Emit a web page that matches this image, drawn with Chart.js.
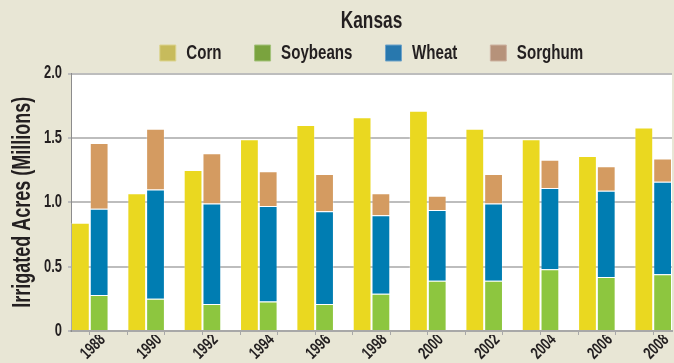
<!DOCTYPE html>
<html>
<head>
<meta charset="utf-8">
<title>Kansas irrigated acres</title>
<script src="https://cdn.jsdelivr.net/npm/chart.js@4.4.1/dist/chart.umd.min.js"></script>
<style>
  html, body { margin: 0; padding: 0; background: #e8e6d5; }
  #wrap { width: 674px; height: 363px; position: relative; }
</style>
</head>
<body>
<div id="wrap"><canvas id="acresChart"></canvas></div>
<script>
// irrigated acres, millions
const years    = [1988, 1990, 1992, 1994, 1996, 1998, 2000, 2002, 2004, 2006, 2008];
const corn     = [0.84, 1.07, 1.25, 1.49, 1.60, 1.66, 1.71, 1.57, 1.49, 1.36, 1.58];
const soybeans = [0.28, 0.25, 0.21, 0.23, 0.21, 0.29, 0.39, 0.39, 0.48, 0.42, 0.44];
const wheat    = [0.67, 0.85, 0.78, 0.74, 0.72, 0.61, 0.55, 0.60, 0.63, 0.67, 0.72];
const sorghum  = [0.51, 0.47, 0.39, 0.27, 0.29, 0.17, 0.11, 0.23, 0.22, 0.19, 0.18];
const yTicks   = [0, 0.5, 1.0, 1.5, 2.0];

const barColors   = ['#ead820', '#8dc63f', '#007db2', '#d49b61'];
const swatchFill  = ['#c7bb5c', '#7aa33e', '#2878ae', '#b6927a'];
const swatchEdge  = ['#dcd48f', '#a3c27a', '#6fa3c9', '#cdb3a1'];

const ink = '#231f20';
const face = "'Liberation Sans', Arial, sans-serif";

// no condensed face installed: squeeze every glyph run horizontally instead
const canvas = document.getElementById('acresChart');
const ctx2d = canvas.getContext('2d');
const squeeze = 0.72;
const rawFillText = ctx2d.fillText.bind(ctx2d);
const rawMeasureText = ctx2d.measureText.bind(ctx2d);
ctx2d.fillText = function (text, x, y, maxWidth) {
    this.save();
    this.translate(x, y);
    this.scale(squeeze, 1);
    if (maxWidth === undefined) rawFillText(text, 0, 0);
    else rawFillText(text, 0, 0, maxWidth / squeeze);
    this.restore();
};
ctx2d.measureText = function (text) {
    const m = rawMeasureText(text);
    return {
        width: m.width * squeeze,
        actualBoundingBoxLeft: m.actualBoundingBoxLeft * squeeze,
        actualBoundingBoxRight: m.actualBoundingBoxRight * squeeze,
        actualBoundingBoxAscent: m.actualBoundingBoxAscent,
        actualBoundingBoxDescent: m.actualBoundingBoxDescent
    };
};

// white plot area on the beige page
const plotBackground = {
    id: 'plotBackground',
    beforeDraw(chart) {
        const { ctx, chartArea: a } = chart;
        ctx.save();
        ctx.fillStyle = '#ffffff';
        ctx.fillRect(a.left, a.top, a.right - a.left, a.bottom - a.top);
        ctx.restore();
    }
};

function bar(label, data, color, stack) {
    return {
        label: label,
        data: data,
        backgroundColor: color,
        borderColor: 'rgba(255,255,255,0.25)',
        borderWidth: 1,
        stack: stack,
        xAxisID: 'x',
        yAxisID: 'y'
    };
}

new Chart(canvas, {
    type: 'bar',
    data: {
        labels: years,
        datasets: [
            bar('Corn', corn, barColors[0], 'corn'),
            bar('Soybeans', soybeans, barColors[1], 'other'),
            bar('Wheat', wheat, barColors[2], 'other'),
            bar('Sorghum', sorghum, barColors[3], 'other')
        ]
    },
    options: {
        responsive: true,
        maintainAspectRatio: false,
        devicePixelRatio: 1,
        animation: false,
        categoryPercentage: 2 / 3,
        barPercentage: 1,
        layout: { padding: { right: 2 } },
        plugins: {
            title: {
                display: true,
                text: 'Kansas',
                fullSize: false,
                color: ink,
                font: { family: face, size: 24, weight: 'bold' },
                padding: { top: 6.6, bottom: -25.9 }
            },
            legend: {
                position: 'top',
                fullSize: false,
                labels: {
                    boxWidth: 16,
                    boxHeight: 16,
                    padding: 33,
                    color: ink,
                    font: { family: face, size: 21, weight: 'bold' },
                    generateLabels(chart) {
                        const items = Chart.defaults.plugins.legend.labels.generateLabels(chart);
                        items.forEach((it, i) => {
                            it.fillStyle = swatchFill[i];
                            it.strokeStyle = swatchEdge[i];
                            it.lineWidth = 1;
                        });
                        return items;
                    }
                }
            },
            tooltip: { enabled: false }
        },
        scales: {
            x: {
                type: 'linear',
                position: 'bottom',
                weight: 1,
                offset: false,
                min: years[0] - 2 / 3,
                max: years[years.length - 1] + 2 / 3,
                afterBuildTicks: s => { s.ticks = years.map(v => ({ value: v })); },
                afterFit: s => { s.height = 28; },
                grid: { display: false, drawTicks: false, offset: false },
                border: { display: false },
                ticks: {
                    autoSkip: false,
                    minRotation: 45,
                    maxRotation: 45,
                    labelOffset: 13,
                    padding: -5,
                    color: ink,
                    font: { family: face, size: 17, weight: 'bold' },
                    callback: v => String(v)
                }
            },
            // small tick marks along the baseline
            xMarks: {
                type: 'linear',
                axis: 'x',
                position: 'bottom',
                weight: 0,
                offset: false,
                min: 0,
                max: 16,
                ticks: { display: false, stepSize: 1 },
                grid: { drawOnChartArea: false, tickLength: 4, color: '#a8a8a8', lineWidth: 1 },
                border: { color: '#a8a8a8', width: 2 }
            },
            y: {
                stacked: true,
                min: 0,
                max: 2,
                afterBuildTicks: s => { s.ticks = yTicks.map(v => ({ value: v })); },
                afterFit: s => { s.width = 71; },
                grid: { color: '#bdbdbd', lineWidth: 2, tickLength: 3 },
                border: { color: '#8c8c8c', width: 1 },
                ticks: {
                    padding: 6,
                    color: ink,
                    font: { family: face, size: 18, weight: 'bold' },
                    callback: v => v === 0 ? '0' : v.toFixed(1)
                },
                title: {
                    display: true,
                    text: 'Irrigated Acres (Millions)',
                    color: ink,
                    font: { family: face, size: 25, weight: 'bold' },
                    padding: { top: 8, bottom: 0 }
                }
            }
        }
    },
    plugins: [plotBackground]
});
</script>
</body>
</html>
